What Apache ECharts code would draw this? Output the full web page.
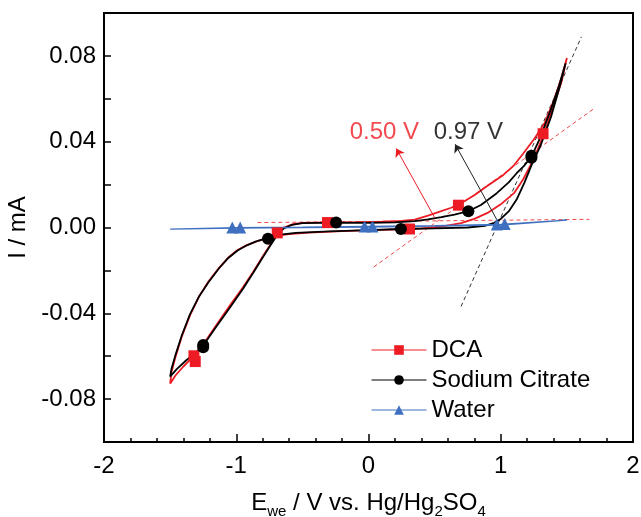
<!DOCTYPE html>
<html><head><meta charset="utf-8">
<script src="https://cdn.jsdelivr.net/npm/echarts/dist/echarts.min.js"></script>
<style>html,body{margin:0;padding:0;background:#fff}#c{width:641px;height:517px}</style>
</head><body><div id="c"></div>
<script>
// ---- data (E / V, I / mA) ----
const seriesNames = ['DCA', 'Sodium Citrate', 'Water'];
const dcaForward = [[-1.50,-0.0728],[-1.46,-0.0690],[-1.40,-0.0648],[-1.32,-0.0598],[-1.25,-0.0545],[-1.15,-0.0455],[-1.05,-0.0365],[-0.95,-0.0280],[-0.87,-0.0205],[-0.80,-0.0135],[-0.74,-0.0078],[-0.69,-0.0032],[-0.64,0.0000],[-0.58,0.0014],[-0.50,0.0022],[-0.31,0.0024],[-0.10,0.0025],[0.10,0.0027],[0.25,0.0031],[0.35,0.0037],[0.45,0.0055],[0.55,0.0076],[0.62,0.0091],[0.68,0.0106],[0.80,0.0150],[0.90,0.0195],[1.02,0.0245],[1.10,0.0290],[1.17,0.0345],[1.25,0.0410],[1.33,0.0485],[1.40,0.0590],[1.46,0.0700],[1.50,0.0790]];
const dcaReverse = [[1.50,0.0790],[1.46,0.0680],[1.40,0.0570],[1.33,0.0440],[1.25,0.0320],[1.17,0.0225],[1.10,0.0160],[1.00,0.0108],[0.90,0.0068],[0.80,0.0040],[0.70,0.0020],[0.55,0.0004],[0.40,-0.0004],[0.31,-0.0007],[0.10,-0.0011],[-0.20,-0.0017],[-0.45,-0.0024],[-0.60,-0.0031],[-0.69,-0.0038],[-0.76,-0.0050],[-0.84,-0.0064],[-0.92,-0.0082],[-0.99,-0.0105],[-1.06,-0.0140],[-1.13,-0.0188],[-1.21,-0.0252],[-1.28,-0.0320],[-1.35,-0.0410],[-1.41,-0.0505],[-1.46,-0.0605],[-1.49,-0.0675],[-1.50,-0.0728]];
const citrateForward = [[-1.50,-0.0695],[-1.45,-0.0660],[-1.38,-0.0620],[-1.30,-0.0580],[-1.25,-0.0550],[-1.15,-0.0462],[-1.05,-0.0375],[-0.95,-0.0287],[-0.87,-0.0210],[-0.80,-0.0140],[-0.74,-0.0082],[-0.69,-0.0035],[-0.64,-0.0004],[-0.58,0.0012],[-0.50,0.0020],[-0.245,0.0023],[0.00,0.0022],[0.20,0.0024],[0.35,0.0030],[0.45,0.0038],[0.55,0.0048],[0.65,0.0060],[0.755,0.0076],[0.85,0.0105],[0.97,0.0160],[1.06,0.0210],[1.12,0.0253],[1.18,0.0290],[1.232,0.0330],[1.30,0.0420],[1.376,0.0545],[1.44,0.0660],[1.49,0.0765]];
const citrateReverse = [[1.49,0.0765],[1.45,0.0665],[1.38,0.0515],[1.30,0.0380],[1.232,0.0290],[1.18,0.0210],[1.12,0.0130],[1.06,0.0075],[1.00,0.0040],[0.95,0.0022],[0.88,0.0008],[0.75,0.0000],[0.50,-0.0004],[0.245,-0.0007],[0.00,-0.0012],[-0.30,-0.0018],[-0.55,-0.0025],[-0.65,-0.0032],[-0.72,-0.0042],[-0.78,-0.0052],[-0.85,-0.0065],[-0.92,-0.0083],[-0.99,-0.0107],[-1.06,-0.0142],[-1.13,-0.0190],[-1.21,-0.0255],[-1.28,-0.0320],[-1.35,-0.0405],[-1.41,-0.0500],[-1.46,-0.0595],[-1.49,-0.0660],[-1.50,-0.0695]];
const waterForward = [[-1.50,-0.0008],[-1.00,0.0000],[-0.50,0.0002],[0.00,0.0005],[0.50,0.0009],[1.00,0.0015],[1.50,0.0034]];
const waterReverse = [[1.50,0.0034],[1.00,0.0011],[0.00,0.0002],[-1.00,-0.0003],[-1.50,-0.0008]];
const dcaMarkers = [[-1.32,-0.0598],[-1.31,-0.0625],[-0.69,-0.0025],[-0.31,0.0023],[0.31,-0.0007],[0.68,0.0104],[1.32,0.0437]];
const citrateMarkers = [[-1.25,-0.0548],[-1.25,-0.0558],[-0.76,-0.0052],[-0.245,0.0023],[0.245,-0.0007],[0.755,0.0076],[1.232,0.0325],[1.232,0.0335]];
const waterMarkers = [[-1.03,0.0000],[-0.97,0.0000],[-0.03,0.0005],[0.03,0.0005],[0.97,0.0014],[1.03,0.0016]];
// onset tangent lines and arrows
const redBaseline = [[-0.84,0.0023],[1.67,0.0038]];
const redTangent = [[0.04,-0.0184],[1.70,0.0552]];
const blackTangent = [[0.70,-0.0368],[1.61,0.0889]];
const redArrow = [[0.50,0.0046],[0.21,0.0368]];
const blackArrow = [[0.97,0.0037],[0.655,0.0388]];
const onsetLabels = ['0.50 V', '0.97 V'];
const onsetLabelAt = [[0.12,0.0444],[0.755,0.0444]];

// ---- styles ----
const RED = '#ed1c24', BLACK = '#000000', BLUE = '#3f70c0';
const FONT = '"Liberation Sans", Arial, Helvetica, sans-serif';
const FS = 24;

const chart = echarts.init(document.getElementById('c'), null, {renderer: 'canvas'});

function curve(name, data, color, symbol, width, z) {
  return {type: 'line', name, data, symbol, showSymbol: false, color,
    lineStyle: {color, width}, itemStyle: {color}, z, animation: false, silent: true};
}
function markers(name, data, color, symbol, size, z) {
  return {type: 'scatter', name, data, symbol, symbolSize: size, color,
    itemStyle: {color, opacity: 1}, z, animation: false, silent: true};
}
function dashed(data, color) {
  return {type: 'line', name: '_guide', data, symbol: 'none', lineStyle: {color, width: 1, type: [4, 3]}, z: 1, animation: false, silent: true};
}
function arrow(pts, color) {
  return {type: 'line', name: '_arrow', data: [], markLine: {silent: true, animation: false,
    symbol: ['none', 'arrow'], symbolSize: 8, label: {show: false},
    lineStyle: {color, width: 1, type: 'solid'},
    data: [[{coord: pts[0]}, {coord: pts[1]}]]}};
}

const option = {
  backgroundColor: '#fff',
  animation: false,
  textStyle: {fontFamily: FONT},
  grid: {left: 104, right: 8, top: 13, bottom: 75, show: true, borderColor: '#000', borderWidth: 2, backgroundColor: 'transparent', outerBoundsMode: 'none'},
  legend: {
    data: seriesNames, orient: 'vertical', left: 371, top: 338, padding: 0,
    itemWidth: 55, itemHeight: 12, itemGap: 6,
    lineStyle: {width: 1},
    textStyle: {fontSize: FS, color: '#000', fontFamily: FONT}, selectedMode: false
  },
  xAxis: {
    type: 'value', min: -2, max: 2, interval: 1,
    name: '{a|E}{s|we}{a| / V vs. Hg/Hg}{s|2}{a|SO}{s|4}', nameLocation: 'middle', nameGap: 49,
    nameTextStyle: {rich: {
      a: {fontSize: FS, lineHeight: 26, verticalAlign: 'top', color: '#000', fontFamily: FONT},
      s: {fontSize: 15, lineHeight: 15, padding: [13, 0, 0, 0], verticalAlign: 'top', color: '#000', fontFamily: FONT}
    }},
    axisLine: {show: true, onZero: false, lineStyle: {color: '#000', width: 2}},
    axisTick: {show: true, inside: true, length: 8, lineStyle: {color: '#000', width: 1.5}},
    minorTick: {show: true, splitNumber: 5, length: 4, lineStyle: {color: '#000', width: 1.5}},
    axisLabel: {fontSize: FS, color: '#000', margin: 12, fontFamily: FONT},
    splitLine: {show: false}, minorSplitLine: {show: false}
  },
  yAxis: {
    type: 'value', min: -0.1, max: 0.1, interval: 0.02,
    name: 'I / mA', nameLocation: 'middle', nameGap: 70,
    nameTextStyle: {fontSize: FS, color: '#000', fontFamily: FONT},
    axisLine: {show: true, onZero: false, lineStyle: {color: '#000', width: 2}},
    axisTick: {show: true, inside: true, length: 7, lineStyle: {color: '#000', width: 1.5}},
    axisLabel: {fontSize: FS, color: '#000', margin: 8, fontFamily: FONT,
      formatter: v => { const r = Math.round(v * 100); if (r % 4 !== 0 || Math.abs(r) >= 10) return ''; return (r / 100).toFixed(2); }},
    splitLine: {show: false}
  },
  series: [
    curve('DCA', dcaForward.concat(dcaReverse), RED, 'rect', 1.8, 2),
    curve('Sodium Citrate', citrateForward.concat(citrateReverse), BLACK, 'circle', 1.8, 3),
    curve('Water', waterForward.concat(waterReverse), BLUE, 'triangle', 1.2, 4),
    markers('DCA', dcaMarkers, RED, 'rect', 11, 5),
    markers('Sodium Citrate', citrateMarkers, BLACK, 'circle', 12, 6),
    markers('Water', waterMarkers, BLUE, 'triangle', 12, 7),
    dashed(redBaseline, '#f04848'),
    dashed(redTangent, '#f04848'),
    dashed(blackTangent, '#333333'),
    arrow(redArrow, RED),
    arrow(blackArrow, '#222222'),
    {type: 'scatter', name: '_labels', symbolSize: 0, silent: true, animation: false, z: 8,
      data: onsetLabelAt.map((p, i) => ({value: p, label: {show: true, position: 'inside', formatter: onsetLabels[i],
        fontSize: FS, fontFamily: FONT, color: i === 0 ? RED : BLACK}}))}
  ]
};
chart.setOption(option);
</script></body></html>
